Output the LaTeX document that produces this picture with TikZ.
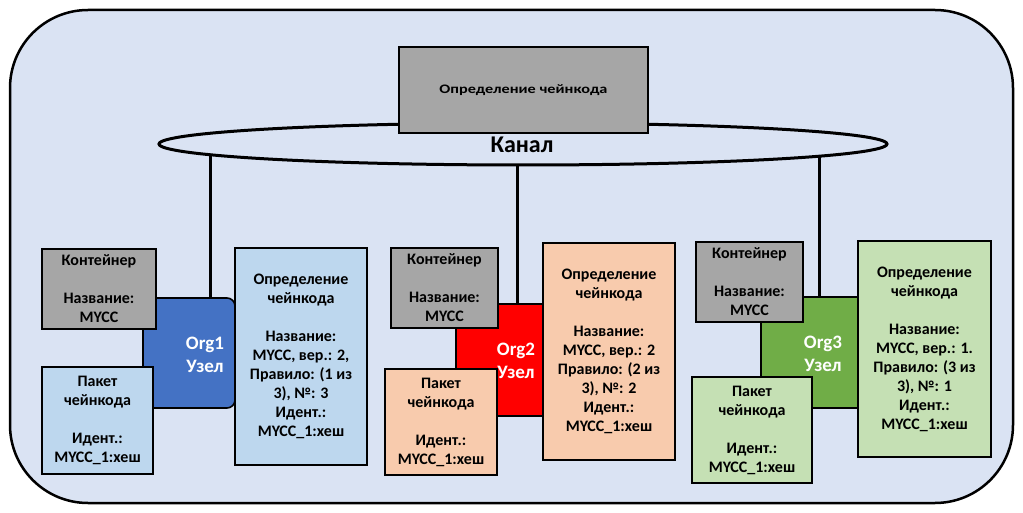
\documentclass[tikz,border=0pt]{standalone}
\usepackage{fontspec}
\setmainfont{Carlito}
\usetikzlibrary{shapes.geometric}
\definecolor{bgc}{HTML}{DAE3F3}
\definecolor{grayc}{HTML}{A6A6A6}
\definecolor{blued}{HTML}{4472C4}
\definecolor{bluel}{HTML}{BDD7EE}
\definecolor{redc}{HTML}{FF0000}
\definecolor{peach}{HTML}{F8CBAD}
\definecolor{greend}{HTML}{70AD47}
\definecolor{greenl}{HTML}{C5E0B4}
\tikzset{
  box/.style={draw=black, line width=1.6pt, inner sep=0pt, align=center,
    font=\fontsize{16}{19}\selectfont\bfseries, text=black},
  orgbox/.style={draw=black, line width=1.6pt, inner sep=0pt, align=center},
  orglabel/.style={align=center, inner sep=0pt, text=white,
    font=\fontsize{19}{23}\selectfont\bfseries},
  link/.style={line width=3pt, draw=black},
}
\begin{document}
\begin{tikzpicture}[x=1pt,y=-1pt]
\useasboundingbox (0,0) rectangle (1023,513);
% outer
\draw[fill=bgc, line width=2.5pt, rounded corners=78pt] (10,10) rectangle (1013,503);

% org nodes
\node[orgbox, fill=blued, rounded corners=8pt, minimum width=92pt, minimum height=110pt] (org1) at (189,353) {};
\node[orglabel] (org1t) at (205,354.5) {Org1\\Узел};
\node[orgbox, fill=redc, minimum width=87pt, minimum height=112pt] (org2) at (499.5,360) {};
\node[orglabel] (org2t) at (516,361) {Org2\\Узел};
\node[orgbox, fill=greend, minimum width=97pt, minimum height=111pt] (org3) at (809.5,352.5) {};
\node[orglabel] (org3t) at (823,353.5) {Org3\\Узел};

% channel ellipse
\node[ellipse, minimum width=728pt, minimum height=42pt, inner sep=0pt] (chan) at (523,144) {};
\draw[link] (org1.north -| 210,0) -- (210,0 |- chan.center);
\draw[link] (org2.north -| 517,0) -- (517,0 |- chan.center);
\draw[link] (org3.north -| 819,0) -- (819,0 |- chan.center);
\draw[line width=3pt, fill=bgc] (chan.center) ellipse (364pt and 21pt);
\node[font=\fontsize{24}{26}\selectfont\bfseries, inner sep=0pt] (canal) at (522,145) {Канал};

% top definition box
\node[box, fill=grayc, minimum width=249pt, minimum height=86pt] (topdef) at (523.5,90)
  {\scalebox{1.25}[1]{\fontsize{13}{15}\selectfont\bfseries Определение чейнкода}};

% Org1 group
\node[box, fill=grayc, minimum width=114pt, minimum height=80pt] (cont1) at (99,289) {Контейнер\\[19pt]Название:\\MYCC};
\node[box, fill=bluel, minimum width=111pt, minimum height=107pt] (pack1) at (97.5,420.5) {Пакет\\чейнкода\\[19pt]Идент.:\\MYCC\_1:хеш};
\node[box, fill=bluel, minimum width=132pt, minimum height=217pt] (def1) at (301,356.5) {Определение\\чейнкода\\[19pt]Название:\\MYCC, вер.: 2,\\Правило: (1 из\\3), №: 3\\Идент.:\\MYCC\_1:хеш};

% Org2 group
\node[box, fill=grayc, minimum width=107pt, minimum height=80pt] (cont2) at (444.5,288) {Контейнер\\[19pt]Название:\\MYCC};
\node[box, fill=peach, minimum width=112pt, minimum height=106pt] (pack2) at (441,422) {Пакет\\чейнкода\\[19pt]Идент.:\\MYCC\_1:хеш};
\node[box, fill=peach, minimum width=132pt, minimum height=217pt] (def2) at (609,351.5) {Определение\\чейнкода\\[19pt]Название:\\MYCC, вер.: 2\\Правило: (2 из\\3), №: 2\\Идент.:\\MYCC\_1:хеш};

% Org3 group
\node[box, fill=grayc, minimum width=107pt, minimum height=80pt] (cont3) at (749.5,282) {Контейнер\\[19pt]Название:\\MYCC};
\node[box, fill=greenl, minimum width=120pt, minimum height=106pt] (pack3) at (752,430) {Пакет\\чейнкода\\[19pt]Идент.:\\MYCC\_1:хеш};
\node[box, fill=greenl, minimum width=133pt, minimum height=216pt] (def3) at (924.5,349) {Определение\\чейнкода\\[19pt]Название:\\MYCC, вер.: 1.\\Правило: (3 из\\3), №: 1\\Идент.:\\MYCC\_1:хеш};
\end{tikzpicture}
\end{document}
